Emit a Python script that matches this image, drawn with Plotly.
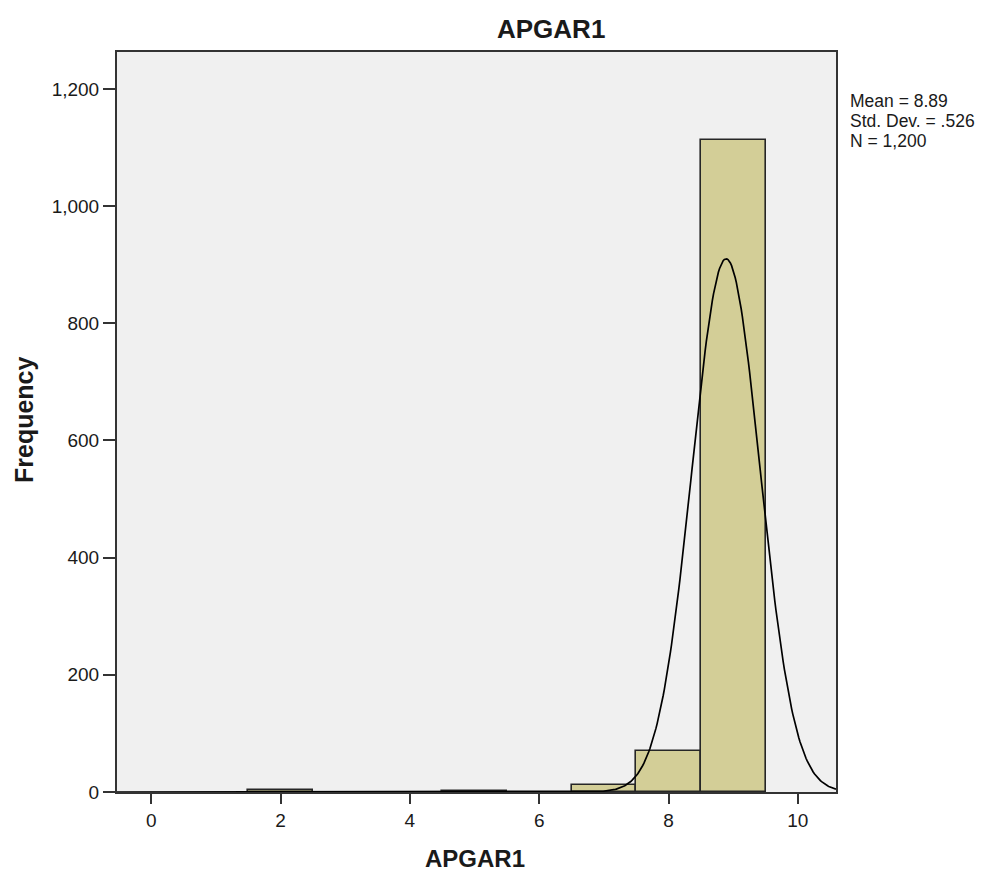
import numpy as np
import plotly.graph_objects as go

# APGAR1 score frequencies (bin width 1)
scores = [2, 5, 7, 8, 9]
counts = [4, 2, 12, 70, 1112]

n_total = 1200
mean_val = 8.89
std_val = 0.526

x_range = [-0.53, 10.59]
y_range = [0, 1263]

# Normal curve scaled to the histogram (count per unit bin)
xs = np.linspace(x_range[0], x_range[1], 600)
ys = n_total * 1.0 / (std_val * np.sqrt(2 * np.pi)) * np.exp(-0.5 * ((xs - mean_val) / std_val) ** 2)

font_family = "Arial, Liberation Sans, sans-serif"
W, H = 990, 873
L, R, T, B = 117, 154, 52, 81
plot_w, plot_h = W - L - R, H - T - B


def px_to_paper_x(px):
    return (px - L) / plot_w


def px_to_paper_y(py):
    return 1 - (py - T) / plot_h


fig = go.Figure()
fig.add_trace(go.Bar(
    x=scores, y=counts, width=1,
    marker=dict(color="#d3ce97", line=dict(color="#262626", width=1.6)),
    showlegend=False, hoverinfo="x+y",
))
fig.add_trace(go.Scatter(
    x=xs, y=ys, mode="lines",
    line=dict(color="black", width=1.7),
    showlegend=False, hoverinfo="skip",
))

fig.update_layout(
    width=W, height=H,
    margin=dict(l=L, r=R, t=T, b=B),
    paper_bgcolor="white",
    plot_bgcolor="#f0f0f0",
    font=dict(family=font_family, size=19, color="#1a1a1a"),
    bargap=0,
    xaxis=dict(
        range=x_range, tickvals=[0, 2, 4, 6, 8, 10],
        ticks="outside", ticklen=10, tickcolor="#333", tickwidth=2,
        showgrid=False, zeroline=False,
        showline=True, linecolor="#333", linewidth=2, mirror=True,
        tickfont=dict(size=19),
    ),
    yaxis=dict(
        range=y_range, tickvals=[0, 200, 400, 600, 800, 1000, 1200],
        tickformat=",d",
        ticks="outside", ticklen=12, tickcolor="#333", tickwidth=2,
        showgrid=False, zeroline=False,
        showline=True, linecolor="#333", linewidth=2, mirror=True,
        tickfont=dict(size=19),
    ),
)

# Chart title and axis titles
fig.add_annotation(xref="paper", yref="paper", x=px_to_paper_x(551), y=px_to_paper_y(29),
                   xanchor="center", yanchor="middle", showarrow=False,
                   text="<b>APGAR1</b>", font=dict(size=26, color="#1a1a1a"))
fig.add_annotation(xref="paper", yref="paper", x=px_to_paper_x(475), y=px_to_paper_y(858),
                   xanchor="center", yanchor="middle", showarrow=False,
                   text="<b>APGAR1</b>", font=dict(size=24, color="#1a1a1a"))
fig.add_annotation(xref="paper", yref="paper", x=px_to_paper_x(24), y=px_to_paper_y(420),
                   xanchor="center", yanchor="middle", showarrow=False, textangle=-90,
                   text="<b>Frequency</b>", font=dict(size=25, color="#1a1a1a"))

# Summary statistics beside the plot
stats_lines = [
    f"Mean = {mean_val:.2f}",
    f"Std. Dev. = .{int(round(std_val * 1000))}",
    f"N = {n_total:,}",
]
for i, line in enumerate(stats_lines):
    fig.add_annotation(xref="paper", yref="paper", x=px_to_paper_x(848), y=px_to_paper_y(101 + 20 * i),
                       xanchor="left", yanchor="middle", showarrow=False,
                       text=line, font=dict(size=17.5, color="#1a1a1a"))

fig.write_html("out.html")
